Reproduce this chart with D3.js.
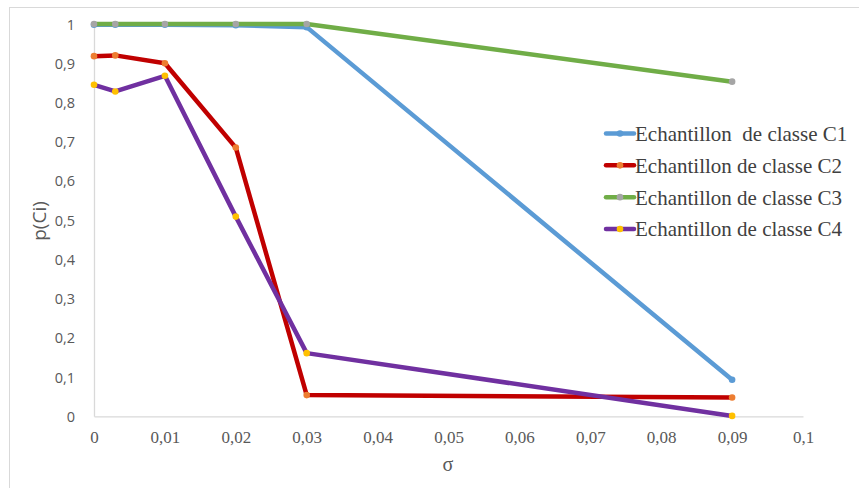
<!DOCTYPE html>
<html>
<head>
<meta charset="utf-8">
<script src="https://cdnjs.cloudflare.com/ajax/libs/d3/7.8.5/d3.min.js"></script>
<style>
  html, body { margin: 0; padding: 0; background: #fff; }
  svg { display: block; }
</style>
</head>
<body>
<svg id="chart" width="859" height="488"></svg>
<script>
// ---- data ----
const sigmaValues = [0, 0.003, 0.01, 0.02, 0.03, 0.09];
const seriesNames = [
  "Echantillon  de classe C1",
  "Echantillon de classe C2",
  "Echantillon de classe C3",
  "Echantillon de classe C4"
];
const c1Values = [0.998, 0.998, 0.998, 0.997, 0.992, 0.093];
const c2Values = [0.918, 0.920, 0.900, 0.685, 0.054, 0.048];
const c3Values = [1.000, 1.000, 1.000, 1.000, 1.000, 0.853];
const c4Values = [0.845, 0.828, 0.868, 0.509, 0.161, 0.001];
const xTickValues = [0, 0.01, 0.02, 0.03, 0.04, 0.05, 0.06, 0.07, 0.08, 0.09, 0.1];
const xTickLabels = ["0", "0,01", "0,02", "0,03", "0,04", "0,05", "0,06", "0,07", "0,08", "0,09", "0,1"];
const yTickValues = [0, 0.1, 0.2, 0.3, 0.4, 0.5, 0.6, 0.7, 0.8, 0.9, 1];
const yTickLabels = ["0", "0,1", "0,2", "0,3", "0,4", "0,5", "0,6", "0,7", "0,8", "0,9", "1"];
const xTitle = "σ";
const yTitle = "p(Ci)";

const lineColors = ["#5B9BD5", "#C00000", "#70AD47", "#7030A0"];
const markerColors = ["#5B9BD5", "#ED7D31", "#A5A5A5", "#FFC000"];

const seriesData = [c1Values, c2Values, c3Values, c4Values].map((vals, i) => ({
  name: seriesNames[i],
  line: lineColors[i],
  marker: markerColors[i],
  points: sigmaValues.map((s, j) => ({ x: s, y: vals[j] }))
}));

const svg = d3.select("#chart");

// outer frame
svg.append("rect")
  .attr("x", 9.5).attr("y", 7.5)
  .attr("width", 900).attr("height", 520)
  .attr("fill", "none").attr("stroke", "#d9d9d9").attr("stroke-width", 1);

const x = d3.scaleLinear().domain([0, 0.1]).range([94, 803]);
const y = d3.scaleLinear().domain([0, 1]).range([416.3, 24]);

// axes
const xAxis = d3.axisBottom(x).tickValues(xTickValues)
  .tickFormat((d, i) => xTickLabels[i]).tickSize(0).tickPadding(0);
const gx = svg.append("g").attr("transform", `translate(0,${y(0)})`).call(xAxis);
gx.select(".domain").attr("stroke", "#d9d9d9").attr("stroke-width", 1.3);
gx.selectAll("text")
  .attr("y", 21).attr("dy", "0.32em")
  .attr("fill", "#595959")
  .style("font-family", "'Liberation Serif', 'Times New Roman', serif")
  .style("font-size", "17px");

const yAxis = d3.axisLeft(y).tickValues(yTickValues)
  .tickFormat((d, i) => yTickLabels[i]).tickSize(0).tickPadding(0);
const gy = svg.append("g").attr("transform", `translate(${x(0)},0)`).call(yAxis);
gy.select(".domain").attr("stroke", "#d9d9d9").attr("stroke-width", 1.3);
gy.selectAll("text")
  .attr("x", -19).attr("dy", "0.35em")
  .attr("fill", "#595959")
  .style("font-family", "'Open Sans', sans-serif")
  .style("font-size", "14.5px");

// axis titles
svg.append("text")
  .attr("transform", "translate(46,221) rotate(-90)")
  .attr("text-anchor", "middle")
  .attr("fill", "#595959")
  .style("font-family", "'Open Sans', sans-serif")
  .style("font-size", "19px")
  .text(yTitle);

svg.append("text")
  .attr("x", 448).attr("y", 471)
  .attr("text-anchor", "middle")
  .attr("fill", "#595959")
  .style("font-family", "'Liberation Serif', 'Times New Roman', serif")
  .style("font-size", "20px")
  .text(xTitle);

// lines
const line = d3.line().x(d => x(d.x)).y(d => y(d.y));
const g = svg.append("g");
seriesData.forEach(s => {
  g.append("path")
    .datum(s.points)
    .attr("d", line)
    .attr("fill", "none")
    .attr("stroke", s.line)
    .attr("stroke-width", 4.5)
    .attr("stroke-linejoin", "round")
    .attr("stroke-linecap", "round");
  g.selectAll(null).data(s.points).enter().append("circle")
    .attr("cx", d => x(d.x)).attr("cy", d => y(d.y))
    .attr("r", 3.3)
    .attr("fill", s.marker);
});

// legend
const legend = svg.append("g");
const legY = d3.scaleLinear().domain([0, 3]).range([133.5, 229]);
seriesData.forEach((s, i) => {
  const ly = legY(i);
  legend.append("line")
    .attr("x1", 606).attr("x2", 634).attr("y1", ly).attr("y2", ly)
    .attr("stroke", s.line).attr("stroke-width", 4.5).attr("stroke-linecap", "round");
  legend.append("circle").attr("cx", 620).attr("cy", ly).attr("r", 3.3).attr("fill", s.marker);
  legend.append("text")
    .attr("x", 635).attr("y", ly).attr("dy", "0.35em")
    .attr("fill", "#404040")
    .style("white-space", "pre")
    .style("font-family", "'Liberation Serif', 'Times New Roman', serif")
    .style("font-size", "21px")
    .text(s.name);
});
</script>
</body>
</html>
